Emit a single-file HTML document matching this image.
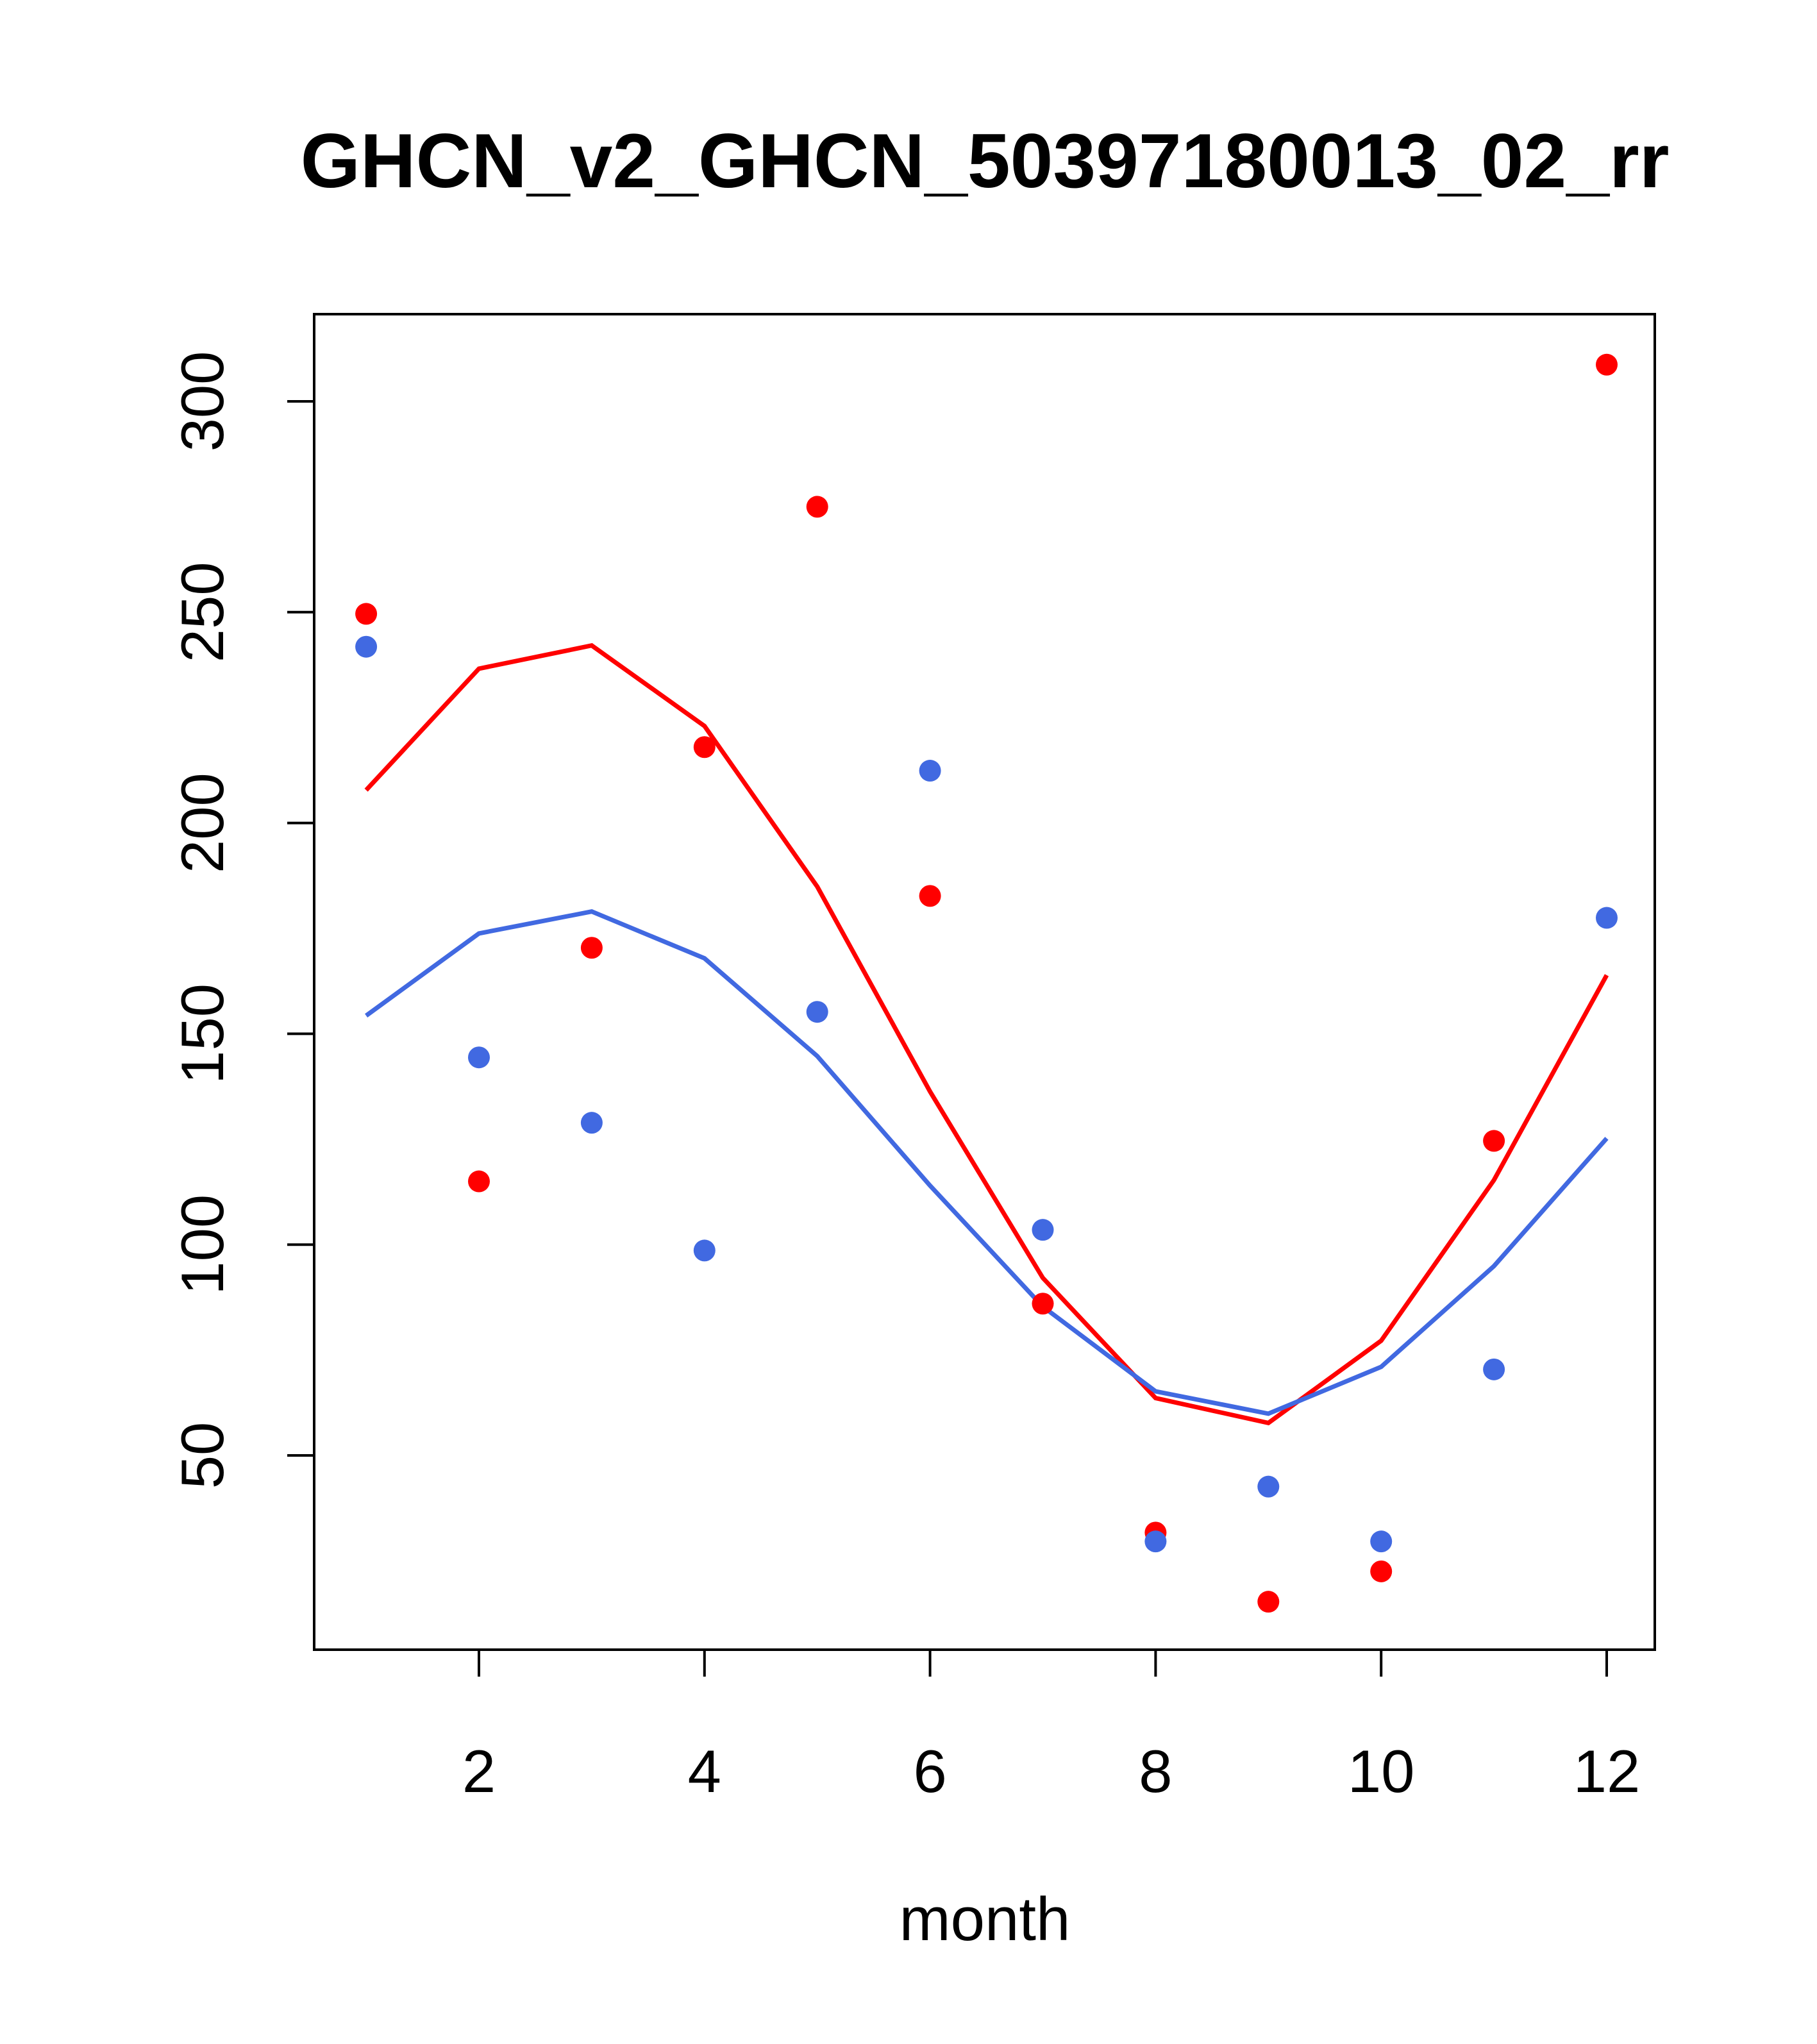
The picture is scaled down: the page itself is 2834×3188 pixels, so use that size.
<!DOCTYPE html>
<html><head><meta charset="utf-8"><style>
html,body{margin:0;padding:0;background:#fff;}
svg{display:block;font-family:"Liberation Sans",Arial,sans-serif;}
</style></head><body>
<svg id="chart" width="2834" height="3188" viewBox="0 0 2834 3188" xmlns="http://www.w3.org/2000/svg">
<text x="1536" y="292" font-size="120" font-weight="bold" text-anchor="middle">GHCN_v2_GHCN_50397180013_02_rr</text>
<rect x="490" y="490" width="2091" height="2083" fill="none" stroke="#000" stroke-width="4"/>
<g id="xaxis"></g>
<g id="yaxis"></g>
<text x="1536" y="3026" font-size="96" text-anchor="middle">month</text>
<g id="series"></g>
</svg>
<script>
const months = [1,2,3,4,5,6,7,8,9,10,11,12];
const redPoints = [249.6,115,170.4,218,275,182.7,86,31.7,15.3,22.5,124.6,308.7];
const bluePoints = [241.8,144.4,128.9,98.6,155.2,212.4,103.5,29.6,42.6,29.6,70.4,177.5];
const redLine = [207.8,236.6,242.1,223,184.9,136.3,92.1,63.6,57.7,77.2,115.3,163.9];
const blueLine = [154.3,173.8,179,167.9,144.7,114,85.3,65.2,59.9,71,94.9,125.2];
const xTicks = [2,4,6,8,10,12];
const yTicks = [50,100,150,200,250,300];

const NS = "http://www.w3.org/2000/svg";
function xs(m){ return 747 + (m-2)*(2506-747)/10; }
function ys(v){ return 2270 - (v-50)*(2270-626)/250; }
function mk(tag, attrs, parent){ const e=document.createElementNS(NS,tag); for(const k in attrs) e.setAttribute(k,attrs[k]); parent.appendChild(e); return e; }

const xa=document.getElementById('xaxis');
mk('line',{x1:xs(2),x2:xs(12),y1:2573,y2:2573,stroke:'#000','stroke-width':4},xa);
xTicks.forEach(t=>{
  const l=mk('line',{x1:xs(t),x2:xs(t),y1:2573,y2:2615,stroke:'#000','stroke-width':4},xa);
  
  
  const tx=mk('text',{x:xs(t),y:2795,'font-size':94,'text-anchor':'middle'},xa);
  tx.textContent=t;
  
  
});
const ya=document.getElementById('yaxis');
mk('line',{x1:490,x2:490,y1:ys(50),y2:ys(300),stroke:'#000','stroke-width':4},ya);
yTicks.forEach(t=>{
  const l=mk('line',{x1:448,x2:490,y1:ys(t),y2:ys(t),stroke:'#000','stroke-width':4},ya);
  
  
  const tx=mk('text',{x:348,y:ys(t),'font-size':94,'text-anchor':'middle',transform:`rotate(-90 348 ${ys(t)})`},ya);
  tx.textContent=t;
  
  
});
const s=document.getElementById('series');
function line(vals,color,name){
  const p=mk('polyline',{points:vals.map((v,i)=>xs(months[i])+','+ys(v)).join(' '),fill:'none',stroke:color,'stroke-width':7}, s);
  
  
}
function pts(vals,color,name){
  vals.forEach((v,i)=>{
    const c=mk('circle',{cx:xs(months[i]),cy:ys(v),r:17,fill:color},s);
    
    
  });
}
line(redLine,'#ff0000','red-line');
line(blueLine,'#4169e1','blue-line');
pts(redPoints,'#ff0000','red-point');
pts(bluePoints,'#4169e1','blue-point');
</script>
</body></html>
